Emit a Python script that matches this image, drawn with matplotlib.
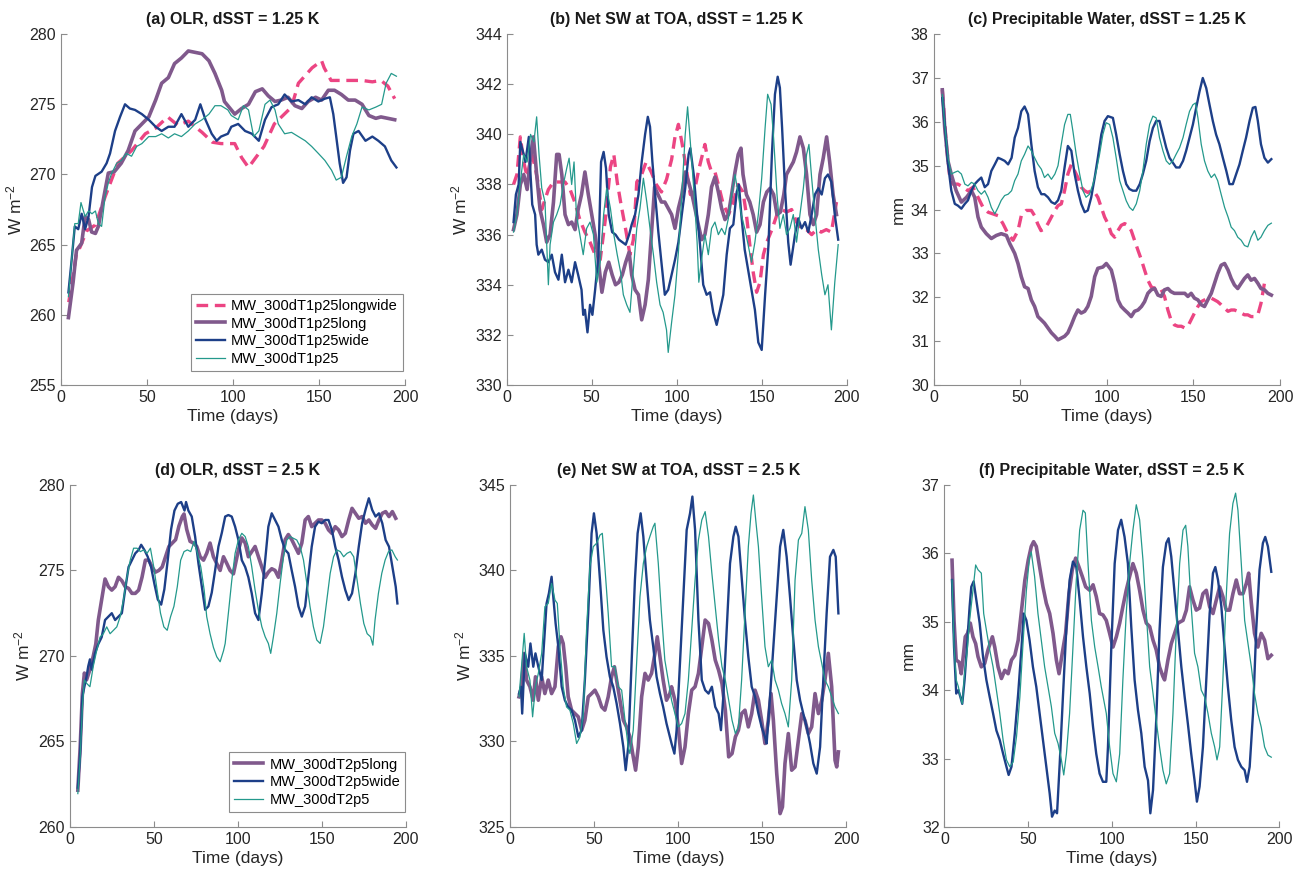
import matplotlib
matplotlib.use('Agg')
import matplotlib.pyplot as plt

plt.rcParams['font.family'] = ['Liberation Sans', 'DejaVu Sans']
plt.rcParams['mathtext.default'] = 'regular'

# colours of the four runs
PINK = '#EC4583'
PURPLE = '#80598C'
BLUE = '#1D3F88'
TEAL = '#24998C'

# ---------------- (a) OLR, dSST = 1.25 K ----------------
a_longwide_t = [4.5, 7, 9, 11, 15, 20, 25.6, 33, 41, 49, 55, 62, 68, 74, 82, 88, 93, 101, 105, 109,
                115, 118, 124, 129, 134, 138, 146, 151.5, 153, 157, 163, 169, 175, 181, 186, 190, 194]
a_longwide = [260.9, 262.8, 264.4, 264.8, 266.0, 266.4, 268.4, 270.8, 271.7, 272.9, 273.3, 274.1, 273.5,
              273.8, 273.0, 272.3, 272.2, 272.2, 271.2, 270.5, 271.5, 272.0, 273.6, 274.2, 274.8, 276.5,
              277.6, 278.1, 277.6, 276.7, 276.7, 276.7, 276.7, 276.6, 276.7, 276.3, 275.4]
a_long_t = [4.3, 7, 9, 12, 14, 16, 17.8, 20, 21.7, 24.6, 27.5, 31, 35, 39, 43, 47, 51, 55, 58.5, 62.4,
            66, 70, 74, 78, 82, 86, 89.5, 93.4, 95, 99, 101, 105, 109, 113, 117, 120.5, 124.4, 128, 132,
            136, 140, 143.7, 148, 151.5, 155.4, 159, 163, 167, 171, 175, 179, 183, 186, 190, 194]
a_long = [259.8, 262.3, 264.6, 265.1, 267.0, 266.8, 265.9, 265.8, 266.3, 268.2, 270.1, 270.2, 270.8,
          271.7, 273.1, 273.6, 274.1, 275.3, 276.5, 276.9, 277.9, 278.3, 278.8, 278.7, 278.6, 278.1,
          277.2, 276.0, 275.2, 274.6, 274.3, 274.7, 275.0, 275.9, 276.1, 275.6, 275.2, 275.3, 275.5,
          274.9, 274.7, 275.2, 275.5, 275.3, 276.0, 276.0, 275.7, 275.3, 275.3, 275.0, 274.2, 274.0,
          274.1, 274.0, 273.9]
a_wide_t = [4.3, 6, 8, 10, 12, 14, 16, 18, 20, 23.6, 26.5, 28.5, 31.4, 34.3, 37.2, 40, 43, 47, 51, 55,
            58.5, 62.4, 66, 70, 74, 78, 81, 84, 87.6, 90.5, 93, 97, 99, 103, 107, 111, 115, 118.6,
            122.4, 126.3, 130, 134, 138, 142, 145.7, 149.6, 153.4, 156.3, 158.3, 160, 162, 164, 166,
            168, 170, 173, 177, 181, 184.5, 188.3, 192, 195]
a_wide = [261.6, 263.7, 266.3, 266.1, 267.2, 266.1, 267.0, 269.1, 269.9, 270.2, 270.8, 271.5, 273.1,
          274.1, 275.0, 274.7, 274.6, 274.3, 273.9, 273.4, 273.1, 273.4, 273.4, 274.3, 273.4, 273.9,
          275.0, 273.9, 272.9, 272.4, 272.7, 272.9, 273.4, 273.6, 273.1, 272.9, 272.4, 273.9, 274.8,
          275.0, 275.7, 275.2, 275.3, 275.0, 275.5, 275.2, 275.4, 275.5, 274.3, 272.7, 270.8, 269.4,
          269.8, 271.7, 272.9, 273.1, 272.4, 272.7, 272.4, 272.0, 271.0, 270.5]
a_ctrl_t = [4.3, 6, 8, 10, 11.6, 14, 16, 18, 20, 21.7, 23.6, 25.6, 27.5, 29.5, 32.4, 35, 38, 41, 44, 47,
            51, 55, 58.5, 62.4, 66, 70, 74, 78, 82, 86, 89.5, 93, 97, 99, 103, 106, 109, 112, 115,
            118.6, 121.5, 124.4, 126.3, 130, 134, 138, 142, 145.7, 149.6, 153.4, 157.3, 160, 163, 166,
            169, 172, 175, 179, 183, 186.4, 189, 192, 195]
a_ctrl = [261.3, 263.7, 266.5, 266.5, 268.0, 267.0, 267.4, 267.2, 267.4, 266.5, 266.3, 268.4, 269.4,
          270.1, 270.8, 271.0, 271.5, 271.3, 272.0, 272.2, 272.7, 272.7, 272.9, 272.6, 272.9, 272.7,
          273.1, 273.6, 273.9, 274.3, 274.9, 274.9, 274.6, 274.2, 273.9, 274.9, 274.6, 272.7, 273.1,
          275.0, 275.3, 274.6, 273.6, 272.9, 273.0, 272.7, 272.4, 272.0, 271.5, 271.0, 270.3, 269.6,
          269.8, 271.3, 272.7, 273.6, 274.8, 274.6, 274.8, 275.0, 276.5, 277.2, 277.0]

# ---------------- (b) Net SW at TOA, dSST = 1.25 K ----------------
b_longwide_t = [4, 6, 8, 10, 12, 14.7, 16.7, 18.6, 20.6, 22.5, 24.5, 27.5, 31.4, 34.3, 37.3, 40, 43, 46,
                49, 52, 55, 58, 61, 63, 65, 67, 70, 72.5, 74.5, 76.5, 79.4, 82, 85, 88, 91, 94, 97, 99,
                101, 103, 105, 108, 110, 113, 116.6, 118.6, 120.5, 122.5, 124.5, 127.4, 130.4, 133,
                136, 139, 141, 143, 145, 147, 149, 151, 153, 156, 159, 162, 164.6, 167.6, 170.5, 173.5,
                176.4, 179.4, 182.3, 185, 188, 191, 194]
b_longwide = [338.0, 338.4, 339.9, 338.9, 338.3, 339.2, 338.7, 338.0, 337.0, 337.4, 337.8, 338.1, 338.1,
              338.1, 337.8, 337.3, 336.6, 336.1, 335.7, 335.2, 335.0, 336.6, 338.7, 339.2, 338.1, 337.3,
              336.2, 335.2, 335.8, 338.1, 338.4, 338.9, 338.5, 338.0, 337.7, 338.2, 339.0, 339.9, 340.4,
              339.7, 338.9, 337.6, 337.6, 338.6, 339.6, 338.9, 338.5, 338.5, 338.0, 337.2, 336.8, 337.2,
              338.0, 337.7, 336.8, 335.6, 334.5, 333.7, 334.1, 335.2, 335.7, 336.2, 336.8, 337.0, 336.9,
              337.0, 336.5, 336.2, 336.2, 336.0, 336.2, 336.1, 336.2, 336.1, 337.3]
b_long_t = [4, 6, 8, 10, 12, 13.7, 15.7, 17.6, 19.6, 21.6, 23.5, 25.5, 27.5, 29.4, 30.8, 32.4, 34.3,
            36.3, 38.2, 40.2, 42, 44, 46, 48, 50, 52, 54, 56, 58, 60, 62, 64, 66, 68, 70, 72, 73.5,
            75.5, 77.5, 79.4, 81.4, 83.3, 85.3, 87, 89, 91, 93, 95, 97, 99, 101, 103, 105, 107, 109,
            110.7, 112.7, 114.7, 116.6, 118.6, 120.5, 122.5, 124.5, 126.4, 128.4, 130.4, 132.3, 134.3,
            136.2, 137.8, 139, 141, 143, 145, 147, 149, 151, 153, 155, 157, 159, 161, 163, 164.6,
            166.6, 168.6, 170.5, 172.5, 174.5, 176.4, 178.4, 180.4, 182.3, 184.3, 186.2, 188.2, 190,
            192, 194]
b_long = [336.2, 336.8, 338.0, 338.4, 337.8, 338.9, 339.9, 338.4, 337.0, 336.4, 335.7, 336.0, 337.3,
          339.2, 339.2, 338.4, 336.8, 336.4, 336.5, 336.2, 337.0, 337.6, 338.5, 337.6, 336.8, 336.0,
          334.9, 333.7, 334.5, 334.9, 334.4, 334.0, 334.1, 334.4, 334.9, 335.3, 334.4, 333.8, 333.6,
          332.6, 333.2, 334.2, 336.2, 337.9, 337.6, 337.3, 337.3, 337.05, 336.8, 336.25, 337.05, 337.6,
          338.5, 338.1, 337.6, 337.05, 336.4, 335.8, 336.0, 336.8, 337.9, 338.3, 337.7, 337.05, 336.6,
          336.8, 337.6, 338.5, 339.2, 339.45, 338.4, 337.6, 337.3, 336.8, 336.1, 336.4, 337.3, 337.7,
          337.85, 337.6, 336.8, 336.9, 337.6, 338.4, 338.65, 338.9, 339.3, 339.9, 339.45, 338.4, 336.8,
          336.4, 336.8, 338.4, 339.05, 339.9, 338.9, 337.6, 336.8]
b_wide_t = [4, 5.4, 7, 8, 10, 11, 13, 14, 15, 16.7, 17.6, 18.6, 20.6, 22.5, 24.5, 26.5, 28.4, 30.4,
            32.4, 34.3, 36.3, 38.2, 40.2, 42, 44, 45, 46, 47.5, 49, 50.4, 52, 54, 55.5, 57, 58.4, 60,
            62, 64, 66, 68, 70, 72, 73.5, 75.5, 77.5, 79.4, 81.4, 83, 84.3, 85.7, 87.3, 89.2, 91, 93,
            95, 97, 99, 101, 103, 105, 107, 108, 110, 112, 113.7, 115.6, 117.6, 119.6, 121.5, 123.5,
            125.5, 127.4, 129.4, 131.3, 133.3, 135.3, 136.6, 138, 140, 142, 144, 146, 148, 150, 152,
            154, 156, 157.8, 159.4, 160.7, 162, 163.7, 165.6, 167, 169.6, 171.5, 173.5, 175.5, 177.4,
            179.4, 181.3, 183.3, 185.3, 187.2, 189, 191, 193, 195]
b_wide = [336.5, 337.6, 338.0, 339.7, 339.2, 338.9, 339.9, 338.4, 337.2, 336.8, 335.6, 335.2, 335.4,
          335.0, 334.9, 335.2, 334.5, 334.2, 335.2, 334.1, 334.6, 334.1, 334.9, 334.4, 333.8, 332.8,
          333.0, 332.1, 333.2, 332.8, 333.8, 335.2, 338.9, 339.3, 338.65, 336.8, 336.1, 336.0, 335.8,
          335.7, 335.6, 336.0, 336.4, 336.8, 337.6, 338.9, 340.0, 340.7, 340.3, 338.9, 337.6, 336.1,
          334.9, 333.6, 333.8, 334.4, 335.0, 335.7, 336.8, 337.85, 339.2, 339.45, 338.4, 336.8, 335.6,
          334.0, 333.6, 333.7, 332.9, 332.4, 333.0, 333.6, 335.2, 336.25, 336.4, 337.7, 338.0, 336.8,
          335.4, 334.6, 333.8, 333.0, 331.7, 331.4, 333.6, 335.6, 339.2, 341.6, 342.3, 341.86, 340.26,
          337.85, 335.7, 334.8, 336.0, 336.65, 336.25, 336.5, 336.1, 336.8, 337.6, 337.85, 337.6,
          338.25, 338.4, 338.1, 336.8, 335.8]
b_ctrl_t = [4, 6, 8, 10, 12, 14, 16, 17.6, 19, 20.6, 22.5, 24.5, 25.5, 27.5, 29.4, 31.4, 33.3, 35.3,
            36.7, 38.2, 39.6, 41, 43, 45, 47, 49, 51, 53, 55, 57, 58.8, 61, 63, 65, 67, 68.6, 70.6,
            72.5, 74.5, 76.5, 78.4, 80.4, 82.4, 84.3, 86.3, 88.2, 90.2, 92, 94, 95, 97, 99, 101, 103,
            105, 106.4, 108, 110, 112, 113, 115, 116.6, 118.6, 120.5, 122.5, 124.5, 126.4, 128.4,
            130.4, 132.3, 134.3, 136.2, 138, 140, 142, 144, 146, 148, 150, 152, 153.5, 155.5, 157,
            159, 160.7, 162.7, 164.6, 166.6, 168.6, 170.5, 172.5, 174.5, 176.4, 177.8, 179.4, 181.3,
            183.3, 185.3, 187.2, 189, 191, 193, 195]
b_ctrl = [336.1, 336.8, 338.1, 339.2, 338.9, 340.0, 339.7, 340.7, 339.2, 337.85, 337.3, 334.0, 335.6,
          336.5, 336.8, 337.2, 338.0, 338.65, 339.05, 338.0, 338.9, 336.8, 336.0, 335.2, 336.25, 336.5,
          336.0, 334.1, 334.9, 336.8, 337.85, 337.05, 336.0, 335.2, 334.5, 333.6, 333.2, 332.9, 334.6,
          336.25, 337.05, 338.25, 337.3, 336.25, 335.2, 334.1, 333.2, 332.9, 332.2, 331.3, 332.5,
          333.6, 335.3, 337.6, 339.99, 341.1, 339.7, 337.85, 335.7, 334.1, 335.2, 336.0, 335.2, 336.25,
          336.5, 336.0, 336.25, 336.0, 336.65, 337.6, 338.4, 337.6, 336.8, 336.25, 335.6, 334.9, 335.7,
          336.8, 338.25, 340.26, 341.6, 341.2, 339.86, 337.6, 336.25, 336.8, 336.0, 336.25, 336.8,
          335.7, 336.8, 337.85, 339.2, 339.6, 338.25, 336.8, 335.4, 334.4, 333.6, 334.0, 332.2, 334.1,
          335.6]

# ---------------- (c) Precipitable Water, dSST = 1.25 K ----------------
c_longwide_t = [5, 7.3, 9.3, 11.2, 14, 17, 19.8, 22.7, 25.6, 28.5, 31.4, 34.3, 37.2, 40, 42.9, 45.8,
                48.7, 50.6, 53.5, 56.4, 58.3, 60, 62, 64, 66, 68, 70, 71.8, 73.7, 75.6, 77.5, 79.5,
                81.4, 83.3, 85.2, 87.2, 89, 91, 93, 94.8, 96.8, 98.7, 100.6, 102.6, 104.5, 106.4, 108.3,
                110.3, 112.2, 114.1, 116, 118, 120, 121.8, 123.7, 125.6, 127.6, 129.5, 131.4, 133.3,
                135.25, 137, 139, 141, 143, 145, 146.8, 148.7, 150.6, 152.6, 154.5, 156.4, 158.3, 160.3,
                162.2, 164, 166, 168, 170, 171.8, 173.7, 175.6, 177.6, 179.5, 181.4, 183.3, 185.25,
                187.2, 189, 191, 192]
c_longwide = [36.73, 35.49, 34.73, 34.58, 34.58, 34.51, 34.43, 34.51, 34.28, 34.05, 33.94, 33.9, 33.86,
              33.68, 33.45, 33.3, 33.52, 33.86, 33.98, 33.98, 33.86, 33.68, 33.52, 33.56, 33.68, 33.83,
              33.98, 34.09, 34.13, 34.43, 34.81, 35.03, 34.88, 34.73, 34.51, 34.43, 34.39, 34.43, 34.39,
              34.28, 34.05, 33.83, 33.68, 33.45, 33.37, 33.52, 33.64, 33.68, 33.64, 33.52, 33.3, 33.07,
              32.85, 32.62, 32.39, 32.24, 32.2, 32.24, 32.17, 32.02, 31.71, 31.49, 31.37, 31.34, 31.34,
              31.3, 31.34, 31.49, 31.64, 31.79, 31.9, 31.94, 31.98, 31.98, 31.94, 31.9, 31.83, 31.75,
              31.68, 31.71, 31.71, 31.68, 31.64, 31.6, 31.6, 31.56, 31.56, 31.6, 31.86, 32.32, 32.39]
c_long_t = [5, 6.4, 8.3, 10.2, 13, 16, 19, 21.8, 23.7, 25.6, 27.5, 30.4, 33.3, 36.2, 39, 42, 44, 46.8,
            48.7, 50.6, 52.5, 54.5, 56.4, 58.3, 60.2, 62, 64, 66, 68, 70, 71.8, 73.7, 75.6, 77.5, 79.5,
            81.4, 83.3, 85.2, 87.2, 89, 91, 93, 94.8, 97.7, 99.7, 102.6, 104.5, 106.4, 108.3, 110.3,
            112.2, 114.1, 116, 118, 120, 121.8, 123.7, 125.6, 127.6, 129.5, 131.4, 133.3, 135.25, 137,
            139, 141, 143, 145, 146.8, 148.7, 150.6, 152.6, 154.5, 156.4, 158.3, 160.3, 162.2, 164,
            166, 168, 170, 171.8, 173.7, 175.6, 177.6, 179.5, 181.4, 183.3, 185.25, 187.2, 189, 191,
            193, 195]
c_long = [36.73, 35.86, 35.1, 34.8, 34.43, 34.17, 34.28, 34.43, 34.28, 33.83, 33.6, 33.45, 33.34, 33.41,
          33.45, 33.41, 33.22, 33.0, 32.77, 32.47, 32.24, 32.2, 31.94, 31.79, 31.56, 31.49, 31.41, 31.3,
          31.19, 31.11, 31.03, 31.07, 31.11, 31.19, 31.37, 31.56, 31.71, 31.64, 31.68, 31.79, 32.02,
          32.47, 32.66, 32.69, 32.77, 32.62, 32.32, 31.94, 31.79, 31.71, 31.64, 31.56, 31.68, 31.71,
          31.79, 31.9, 32.09, 32.17, 32.2, 32.05, 32.02, 32.17, 32.2, 32.13, 32.09, 32.09, 32.09, 32.09,
          32.02, 32.09, 31.98, 31.94, 31.83, 31.79, 31.94, 32.09, 32.32, 32.54, 32.73, 32.77, 32.62,
          32.43, 32.28, 32.2, 32.32, 32.43, 32.51, 32.39, 32.43, 32.32, 32.2, 32.17, 32.09, 32.05]
c_wide_t = [5, 6.4, 8.3, 10.2, 12.2, 14, 16, 18, 19.8, 21.8, 23.7, 25.6, 27.5, 29.5, 31.4, 33.3, 35.3,
            37.2, 39, 41, 43, 45, 46.8, 48.7, 50.6, 52.5, 54.5, 56.4, 58.3, 60.2, 62.2, 64, 66, 68, 70,
            71.8, 73.7, 75.6, 77.5, 79.5, 81.4, 83.3, 85.2, 87.2, 89, 91, 93, 94.8, 96.8, 98.7, 100.6,
            103.5, 105.4, 107.4, 109.3, 111.2, 113, 115, 117, 119, 120.8, 122.75, 124.7, 126.6, 128.5,
            130.4, 132.4, 134.3, 136.2, 138.1, 140, 142, 144, 145.8, 147.75, 149.7, 151.6, 153.5,
            155.4, 157.4, 159.3, 161.2, 163.1, 165, 167, 169, 170.8, 172.75, 174.7, 176.6, 178.5,
            180.4, 182.4, 184.3, 185.8, 187.2, 189, 191, 193, 195]
c_wide = [36.54, 35.94, 35.03, 34.43, 34.13, 34.09, 34.02, 34.13, 34.21, 34.43, 34.58, 34.66, 34.73,
          34.51, 34.58, 34.88, 35.03, 35.18, 35.15, 35.11, 35.03, 35.18, 35.64, 35.86, 36.24, 36.35,
          36.17, 35.49, 34.88, 34.51, 34.35, 34.35, 34.28, 34.17, 34.13, 34.21, 34.43, 34.96, 35.45,
          35.34, 34.81, 34.43, 34.13, 33.94, 33.98, 34.28, 34.73, 35.18, 35.71, 36.02, 36.13, 36.09,
          35.71, 35.26, 34.88, 34.58, 34.47, 34.43, 34.43, 34.58, 34.81, 35.11, 35.56, 35.86, 36.02,
          36.02, 35.71, 35.41, 35.18, 35.07, 34.96, 34.96, 35.11, 35.34, 35.64, 35.94, 36.32, 36.69,
          37.0, 36.77, 36.39, 36.02, 35.71, 35.49, 35.18, 34.88, 34.58, 34.58, 34.81, 35.03, 35.34,
          35.64, 36.02, 36.32, 36.34, 36.02, 35.49, 35.18, 35.07, 35.15]
c_ctrl_t = [5, 6.4, 8.3, 10.2, 12.2, 14, 16, 18, 19.8, 21.8, 23.7, 25.6, 27.5, 29.5, 31.4, 33.3, 35.3,
            37.2, 39, 41, 43, 45, 46.8, 48.7, 50.6, 52.5, 54.5, 56.4, 58.3, 60.2, 62.2, 64, 66, 68, 70,
            71.8, 73.7, 75.6, 77.5, 78.9, 80.4, 82.3, 84.3, 86.2, 88, 90, 92, 93.9, 95.8, 97.7, 99.6,
            101.6, 103.5, 105.4, 107.4, 109.3, 111.2, 113.1, 115, 117, 119, 120.8, 122.75, 124.7,
            126.6, 128.5, 130.4, 132.4, 134.3, 136.2, 138.1, 140, 142, 144, 145.8, 147.75, 149.7,
            151.2, 152.6, 154.5, 156.4, 158.3, 160.3, 162.2, 164, 166, 168, 170, 171.8, 173.7, 175.6,
            177.6, 179.5, 181.4, 183.3, 185.25, 187.2, 189, 191, 193, 195]
c_ctrl = [36.62, 35.94, 35.18, 34.81, 34.85, 34.88, 34.81, 34.58, 34.54, 34.62, 34.58, 34.43, 34.35,
          34.43, 34.28, 34.05, 33.9, 34.05, 34.21, 34.32, 34.35, 34.43, 34.66, 34.81, 35.11, 35.26,
          35.45, 35.34, 35.18, 35.03, 34.92, 34.73, 34.81, 34.69, 34.81, 35.0, 35.49, 35.94, 36.17,
          36.17, 35.79, 35.26, 34.81, 34.43, 34.28, 34.35, 34.58, 34.88, 35.26, 35.71, 35.98, 35.94,
          35.64, 35.18, 34.66, 34.43, 34.2, 34.05, 33.98, 34.13, 34.43, 34.88, 35.49, 35.94, 36.13,
          36.09, 35.64, 35.34, 35.11, 35.03, 35.11, 35.26, 35.41, 35.64, 35.94, 36.24, 36.39, 36.43,
          36.09, 35.49, 35.11, 34.88, 34.73, 34.81, 34.66, 34.35, 34.05, 33.83, 33.6, 33.52, 33.37,
          33.3, 33.18, 33.15, 33.37, 33.52, 33.3, 33.37, 33.52, 33.64, 33.69]

# ---------------- (d) OLR, dSST = 2.5 K ----------------
d_long_t = [4.8, 6.2, 7.5, 8.7, 10, 12, 14, 15.5, 17, 19, 21, 23, 25, 27, 29, 31, 33, 35, 37, 39, 41,
            43, 45, 47, 49, 51, 53, 55, 57, 59, 61, 63, 65, 67, 68, 69.6, 71.6, 73.6, 75.6, 77.6, 79.6,
            81.5, 83.5, 85.5, 87.5, 89.5, 91.5, 93.5, 95.4, 97.4, 100.4, 102.4, 104.4, 106.3, 108.3,
            110.3, 112.3, 114.3, 116.3, 118.2, 120.2, 122.2, 124.2, 126.2, 128.2, 130.1, 132.1, 134.1,
            136.1, 138.1, 140.1, 142, 144, 146, 148, 150, 152, 154, 156, 158, 160, 162, 164, 166, 168,
            170, 172, 174, 176, 178, 180, 182, 184, 186, 188, 190, 192, 194]
d_long = [262.15, 264.68, 267.8, 269.0, 268.6, 269.2, 270.0, 270.7, 272.1, 273.3, 274.5, 274.05, 273.85,
          274.05, 274.6, 274.4, 274.05, 273.95, 273.66, 273.66, 273.85, 274.6, 275.6, 275.6, 275.2,
          274.9, 275.0, 275.2, 275.8, 276.4, 276.6, 276.8, 277.6, 278.15, 278.3, 277.4, 276.7, 276.6,
          276.4, 275.8, 275.6, 276.0, 276.6, 275.8, 275.4, 275.0, 275.8, 275.4, 275.0, 274.8, 276.2,
          276.9, 276.6, 275.8, 276.1, 276.4, 275.8, 275.2, 274.6, 274.9, 275.1, 275.0, 274.6, 275.6,
          276.8, 277.1, 276.8, 276.4, 276.0, 276.6, 277.95, 278.15, 277.56, 277.76, 277.95, 277.95,
          277.76, 277.37, 277.17, 277.56, 277.37, 276.98, 277.17, 277.95, 278.63, 278.34, 278.05,
          278.15, 277.76, 277.95, 277.66, 277.46, 277.95, 278.34, 278.44, 278.15, 278.44, 278.05]
d_wide_t = [4.8, 6.2, 7.5, 8.7, 10, 11, 12, 13, 15, 17, 19, 21, 23, 25, 27, 29, 31, 33, 35, 37, 39, 41,
            42.5, 44.4, 46.4, 48.4, 50.4, 52.4, 54.4, 56.3, 58.3, 60.3, 62.3, 64.3, 66.3, 68.3, 69.2,
            70.6, 72.6, 74.6, 76.6, 78.6, 80.6, 82.5, 84.5, 86.5, 88.5, 90.5, 92.5, 94.4, 96.4, 98.4,
            100.4, 102.4, 104.4, 106.3, 108.3, 110.3, 112.3, 114.3, 116.3, 118.2, 120.2, 122.2, 124.2,
            126.2, 128.2, 130.1, 132.1, 134.1, 136.1, 138.1, 140.1, 142, 144, 146, 148, 150, 152, 154,
            156, 158, 160, 162, 164, 166, 168, 170, 172, 174, 176, 178, 180, 182, 184, 186, 188, 190,
            192, 194, 195]
d_wide = [262.3, 264.3, 267.6, 268.2, 268.8, 269.4, 269.8, 269.2, 270.15, 270.7, 271.1, 272.1, 272.3,
          272.5, 272.1, 272.3, 272.5, 273.9, 275.2, 275.6, 276.0, 276.2, 276.5, 276.2, 275.8, 275.2,
          274.2, 273.3, 273.0, 273.9, 275.6, 277.4, 278.5, 278.9, 279.0, 278.5, 279.0, 278.5, 278.15,
          276.98, 275.4, 274.05, 272.7, 272.9, 273.7, 275.0, 276.4, 277.2, 278.15, 278.24, 278.15,
          277.56, 276.78, 275.6, 275.2, 274.6, 273.66, 272.5, 272.1, 273.66, 275.6, 277.56, 278.34,
          277.95, 277.56, 276.78, 276.2, 276.0, 275.0, 274.05, 272.9, 272.3, 272.9, 274.63, 276.39,
          277.56, 277.85, 277.76, 277.95, 277.95, 277.37, 276.39, 275.61, 274.63, 273.85, 273.27,
          273.66, 274.83, 276.39, 277.76, 278.54, 279.22, 278.54, 278.15, 278.34, 277.76, 276.78,
          276.39, 275.22, 274.05, 273.07]
d_ctrl_t = [4.8, 6.2, 7.5, 8.7, 10, 12, 14, 16, 18, 20, 22, 24, 26, 28, 30, 32, 34, 36, 38, 40, 42, 44,
            46, 48, 50, 52, 54, 56, 58, 60, 62, 64, 66, 68, 70, 72, 74, 76, 78, 80, 81.5, 83.5, 85.5,
            87.5, 89.5, 91.5, 92.5, 94.4, 96.4, 98.4, 100.4, 102.4, 104.4, 106.3, 108.3, 110.3, 112.3,
            114.3, 116.3, 118.2, 119.6, 121.2, 123.2, 125.2, 127.2, 129.2, 131.1, 133.1, 135.1, 137.1,
            139.1, 141.1, 143, 145, 147, 149, 151, 153, 155, 157, 159, 161, 163, 165, 167, 169, 171,
            173, 175, 177, 179, 180.4, 181.7, 183.7, 185.7, 187.7, 189.7, 191.7, 193.7, 195]
d_ctrl = [261.95, 264.1, 267.0, 268.6, 268.4, 268.2, 269.4, 270.3, 271.1, 271.3, 271.7, 271.3, 271.5,
          271.7, 272.3, 273.3, 274.6, 275.6, 276.3, 276.3, 276.1, 276.2, 276.0, 276.3, 275.2, 273.85,
          272.5, 271.7, 271.5, 272.3, 272.9, 274.05, 275.6, 276.1, 276.2, 276.1, 276.7, 276.0, 275.2,
          273.85, 272.3, 271.3, 270.5, 269.95, 269.66, 270.3, 270.73, 272.5, 274.4, 276.0, 276.8,
          277.17, 276.98, 276.39, 275.22, 273.85, 272.68, 271.71, 271.12, 270.73, 270.15, 271.12,
          272.49, 274.24, 275.8, 276.78, 276.98, 276.88, 276.78, 276.39, 275.61, 274.24, 272.88,
          271.71, 270.93, 270.73, 271.71, 273.27, 274.83, 275.8, 276.2, 276.1, 275.8, 276.0, 276.1,
          275.8, 274.44, 273.07, 271.9, 271.3, 271.12, 270.63, 272.1, 273.66, 274.83, 275.61, 276.1,
          276.2, 275.8, 275.61]

# ---------------- (e) Net SW at TOA, dSST = 2.5 K ----------------
e_long_t = [5.2, 6.7, 8.3, 9.7, 11.7, 13.7, 15, 16.7, 18.7, 20.6, 22.6, 24.6, 26.6, 28.6, 30.2, 31.5,
            33, 34.5, 36.5, 38.5, 40.5, 42.5, 44.4, 46.4, 48.4, 50.4, 52.4, 54.4, 56.3, 58.3, 60.3, 62,
            63.3, 65.3, 67.3, 69.2, 71.2, 73.2, 74.6, 76.2, 78.2, 80.2, 82.1, 84.1, 86.1, 87.5, 89.1,
            91, 93, 95, 96, 98, 100, 102, 104, 106, 108, 110, 112, 114, 116, 118, 120, 122, 124, 126,
            128, 130, 132, 134, 135.8, 137.7, 139.7, 141.7, 143.7, 145.7, 147.7, 149.6, 151.6, 153.6,
            155.2, 156.6, 158.6, 160.6, 162, 163.5, 165.5, 167.5, 169.5, 171.5, 173.5, 175.4, 177.4,
            179.4, 181.4, 183.4, 185.4, 187.3, 189.3, 191.3, 193.3, 194.3, 195.3]
e_long = [332.61, 333.2, 335.15, 333.59, 333.2, 332.41, 333.78, 332.41, 333.78, 332.8, 333.59, 332.8,
          333.2, 335.54, 336.12, 335.73, 334.37, 332.61, 331.83, 331.63, 331.44, 330.66, 331.24, 332.61,
          332.8, 333.0, 332.61, 332.02, 331.83, 332.61, 333.78, 334.37, 333.59, 332.41, 331.24, 330.85,
          330.27, 329.1, 328.32, 329.68, 332.61, 333.98, 333.59, 333.98, 335.15, 336.12, 334.95,
          333.59, 332.41, 332.8, 333.2, 332.41, 330.85, 328.71, 329.68, 331.63, 333.0, 333.2, 333.98,
          335.54, 337.1, 336.9, 335.93, 334.76, 334.17, 333.39, 331.83, 329.1, 329.29, 330.27, 330.66,
          331.63, 331.83, 330.85, 331.63, 333.0, 332.41, 331.24, 329.88, 331.24, 332.8, 331.24, 328.12,
          325.78, 326.17, 328.71, 330.46, 328.32, 328.51, 330.07, 331.63, 331.24, 330.46, 330.85,
          332.8, 331.63, 332.41, 333.59, 335.15, 333.2, 328.9, 328.51, 329.39]
e_wide_t = [5.2, 6.4, 7.1, 8.7, 10.7, 12, 13.7, 15, 16.7, 18.7, 20.6, 21.6, 23, 24.6, 25.6, 27, 28.6,
            30.6, 32.5, 34.5, 36.5, 38.5, 40.5, 42.5, 44.4, 46.4, 48.4, 49.8, 51.4, 53.4, 55.4, 57.3,
            59.3, 61.3, 63.3, 65.3, 67.3, 68.7, 70.2, 72.2, 74.2, 75.8, 77.6, 79.2, 81.2, 83.1, 85.1,
            87.1, 89.1, 91, 93, 95, 96, 97.7, 99, 101, 103, 105, 107, 108.4, 110, 112, 114, 116, 118,
            120, 122, 124, 125.4, 126.8, 128.8, 130.8, 132.8, 134.2, 135.8, 137.7, 139.7, 141.7, 143.7,
            145.7, 147.7, 149.6, 151.6, 152.6, 154.6, 156.6, 158.6, 160.6, 162.5, 164.5, 166.5, 168.5,
            170.5, 172.5, 174.4, 176.4, 178.4, 180.4, 182.4, 184.4, 186.3, 188.3, 190.3, 192.3, 193.7,
            195.3]
e_wide = [332.8, 333.2, 331.63, 335.15, 334.37, 335.73, 334.37, 335.15, 334.37, 333.59, 336.51, 338.07,
          338.66, 339.63, 338.46, 336.9, 335.54, 333.2, 332.41, 332.02, 331.83, 331.24, 330.27, 330.66,
          333.59, 337.49, 342.17, 343.34, 342.17, 339.44, 336.51, 334.95, 333.78, 333.2, 332.22, 331.05,
          329.68, 328.32, 329.68, 334.56, 339.44, 342.17, 343.34, 341.98, 339.44, 337.1, 335.54, 333.78,
          332.8, 332.02, 331.05, 330.27, 329.88, 329.29, 330.66, 334.56, 338.46, 342.37, 343.34, 344.32,
          342.37, 337.1, 333.59, 333.0, 332.8, 333.2, 332.02, 331.63, 330.66, 332.61, 336.51, 340.41,
          341.98, 342.56, 341.98, 339.63, 337.1, 334.95, 333.2, 332.61, 331.63, 330.85, 330.27, 329.88,
          332.61, 335.54, 338.46, 341.39, 342.37, 340.8, 338.46, 335.93, 333.59, 332.41, 331.63, 330.85,
          329.88, 328.71, 328.12, 329.68, 333.59, 337.49, 340.8, 341.2, 340.8, 337.49]
e_ctrl_t = [5.2, 6.7, 8.3, 9.7, 11.7, 13.3, 15, 16.7, 18.7, 20.6, 22.6, 24.6, 26.6, 28, 29.6, 31.5, 33.5,
            35.5, 37.5, 39.5, 41.5, 43.5, 45.4, 47.4, 49.4, 51.4, 53.4, 54.8, 56.3, 58.3, 60.3, 62.3,
            64.3, 66.3, 68.3, 70.2, 71.2, 73.2, 75.2, 77.2, 79.2, 81.2, 83.1, 85.1, 86.1, 88.1, 90, 92,
            94, 96, 98, 100, 102, 104, 106, 108, 110, 112, 114, 116, 118, 120, 122, 124, 126, 128, 130,
            132, 134, 135.8, 137.7, 139.7, 141.7, 143.3, 144.7, 146.1, 147.7, 149.6, 151.6, 153.6,
            155.6, 157.6, 159.6, 161.5, 163.5, 165.5, 167.5, 169.5, 171.5, 173.5, 175.4, 177.4, 179.4,
            181.4, 183.4, 185.4, 187.3, 189.3, 191.3, 193.3, 195.3]
e_ctrl = [332.61, 334.37, 336.32, 334.37, 333.59, 331.44, 333.2, 333.98, 335.15, 337.88, 338.07, 339.24,
          338.27, 338.07, 335.54, 333.2, 332.02, 331.83, 331.05, 329.88, 330.27, 331.63, 336.51, 340.22,
          341.39, 341.59, 342.07, 342.17, 340.22, 337.49, 334.37, 334.37, 333.2, 333.0, 331.24, 329.68,
          329.29, 330.66, 334.56, 338.46, 340.41, 341.39, 341.98, 342.56, 342.76, 340.41, 337.49, 334.76,
          333.59, 332.41, 331.63, 330.85, 331.05, 331.63, 333.59, 336.51, 339.44, 341.78, 342.95, 343.44,
          341.98, 339.83, 337.88, 335.93, 334.37, 333.59, 332.41, 331.24, 330.46, 330.85, 333.59, 337.49,
          341.39, 343.34, 344.41, 342.95, 341.39, 338.46, 335.54, 334.37, 334.76, 333.59, 333.0, 332.22,
          331.63, 330.85, 333.59, 339.44, 341.78, 342.17, 343.73, 342.37, 339.44, 337.1, 335.54, 334.56,
          333.59, 333.2, 332.61, 332.02, 331.63]

# ---------------- (f) Precipitable Water, dSST = 2.5 K ----------------
f_long_t = [4.5, 5.7, 7, 8.7, 10, 11.4, 12.4, 13.8, 15.4, 17, 18.6, 20, 22, 24, 26, 28.6, 30, 32, 34, 36,
            38, 40, 42, 44, 46, 48, 50, 51.8, 53.2, 54.8, 56.8, 58.8, 60.8, 62.8, 64.8, 66.8, 68.4,
            70.3, 72.3, 74.3, 76.3, 78.3, 80.3, 82.3, 84.3, 86.7, 88.7, 90.6, 92.6, 94.6, 96.6, 98.6,
            100.6, 102.6, 104.6, 106.5, 108.5, 110.5, 112.5, 114.5, 116.5, 118.5, 120.5, 122.5, 124.5,
            126.4, 128.4, 130.4, 131.4, 133.4, 135.4, 137.4, 139.4, 142.4, 144.4, 146.3, 148.3, 150.3,
            152.3, 154.3, 156.3, 158.3, 160.3, 162.3, 164.3, 166.2, 168.2, 170.2, 172.2, 174.2, 176.2,
            178.2, 180.2, 181.6, 183.2, 185.1, 187.1, 189.1, 191.1, 193.1, 195.1]
f_long = [35.90, 35.02, 34.44, 34.41, 34.24, 34.54, 34.78, 34.83, 34.98, 34.78, 34.68, 34.49, 34.34,
          34.39, 34.59, 34.78, 34.63, 34.34, 34.17, 34.29, 34.24, 34.44, 34.51, 34.73, 35.17, 35.61,
          35.90, 36.10, 36.17, 36.10, 35.80, 35.51, 35.27, 35.12, 34.83, 34.44, 34.24, 34.54, 34.83,
          35.41, 35.76, 35.93, 35.80, 35.66, 35.51, 35.46, 35.54, 35.37, 35.12, 35.10, 35.02, 34.83,
          34.63, 34.78, 34.98, 35.22, 35.46, 35.66, 35.85, 35.71, 35.46, 35.17, 34.98, 34.93, 34.73,
          34.59, 34.34, 34.20, 34.15, 34.44, 34.68, 34.83, 34.98, 35.02, 35.17, 35.51, 35.32, 35.17,
          35.20, 35.41, 35.46, 35.22, 35.12, 35.32, 35.51, 35.37, 35.17, 35.17, 35.41, 35.61, 35.41,
          35.41, 35.56, 35.71, 35.27, 34.83, 34.63, 34.83, 34.73, 34.46, 34.51]
f_wide_t = [4.5, 5.7, 7, 8.3, 9.5, 10.6, 12, 13.4, 15, 16, 17.4, 19, 21, 23, 25, 27, 29, 31, 33, 35, 37,
            38.3, 40, 42, 44, 46, 47.3, 48.9, 50.8, 52.8, 54.8, 56.8, 58.8, 60.8, 62.8, 64.2, 65.8,
            67.2, 68.8, 70.7, 72.7, 74.7, 76.7, 78.7, 80.7, 82.7, 84.7, 86.7, 88.7, 90.6, 92.6, 94.6,
            96.6, 97.6, 99.6, 101.6, 103.6, 105.5, 107.5, 109.5, 111.5, 113.5, 115.5, 117.5, 119.5,
            121.5, 122.9, 124.5, 126.4, 128.4, 130.4, 132.4, 133.8, 135.4, 137.4, 139.4, 141.4, 143.4,
            145.3, 147.3, 149.3, 150.7, 152.3, 154.3, 156.3, 158.3, 160.3, 161.7, 163.3, 165.3, 167.2,
            169.2, 171.2, 173.2, 175.2, 177.2, 179.2, 180.6, 182.2, 184.2, 186.1, 188.1, 190.1, 191.5,
            193.1, 195.1]
f_wide = [35.61, 34.63, 33.95, 34.00, 33.90, 33.80, 34.15, 34.63, 35.22, 35.51, 35.59, 35.32, 34.98,
          34.49, 34.15, 33.90, 33.66, 33.41, 33.27, 33.07, 32.88, 32.76, 32.88, 33.37, 33.95, 34.63,
          35.12, 35.02, 34.73, 34.34, 34.05, 33.66, 33.27, 32.88, 32.49, 32.15, 32.24, 32.20, 32.93,
          33.90, 34.88, 35.61, 35.88, 35.80, 35.32, 34.78, 34.34, 33.95, 33.46, 33.07, 32.78, 32.66,
          32.66, 33.17, 34.63, 35.85, 36.34, 36.49, 36.24, 35.85, 34.93, 34.15, 33.71, 33.37, 32.88,
          32.68, 32.20, 32.54, 33.56, 34.88, 35.80, 36.15, 36.22, 35.95, 35.41, 34.88, 34.34, 33.90,
          33.51, 33.07, 32.68, 32.37, 32.59, 33.17, 34.15, 35.12, 35.71, 35.80, 35.61, 35.22, 34.63,
          34.05, 33.56, 33.17, 32.98, 32.88, 32.83, 32.66, 32.88, 33.66, 34.88, 35.76, 36.15, 36.24,
          36.10, 35.73]
f_ctrl_t = [4.5, 5.7, 7, 8.3, 9.5, 10.6, 12, 13.4, 15, 17, 18.6, 20, 22, 23.4, 25, 27, 29, 31, 33, 35,
            37, 39, 41, 43, 45, 47, 48.9, 50.8, 51.8, 53.8, 55.8, 57.8, 59.8, 61.8, 63.8, 65.8, 67.8,
            69.8, 71.2, 72.8, 74.7, 76.7, 78.7, 80.7, 82.7, 84.1, 85.7, 87.7, 89.7, 91.7, 93.6, 96.6,
            98.6, 100.6, 102.6, 104.6, 106.5, 108.5, 110.5, 112.5, 114.5, 116.5, 118.5, 120.5, 122.5,
            124.5, 126.4, 128.4, 130.4, 132.4, 134.4, 136.4, 138.4, 140.4, 142.4, 144, 145.3, 147.3,
            149.3, 151.3, 153.3, 155.3, 157.3, 159.3, 161.3, 162.7, 164.3, 166.2, 168.2, 170.2, 172.2,
            173.8, 175.2, 177.2, 179.2, 181.2, 183.2, 185.1, 187.1, 189.1, 191.1, 193.1, 195.1]
f_ctrl = [35.61, 34.63, 34.15, 34.05, 33.90, 33.80, 34.24, 34.54, 35.02, 35.46, 35.83, 35.76, 35.71,
          35.12, 34.88, 34.59, 34.34, 34.00, 33.66, 33.27, 32.98, 32.88, 32.95, 33.32, 33.90, 34.73,
          35.46, 35.95, 36.02, 35.66, 35.12, 34.73, 34.34, 34.05, 33.76, 33.37, 33.22, 32.98, 32.76,
          33.07, 33.66, 34.63, 35.61, 36.34, 36.63, 36.59, 35.85, 35.02, 34.63, 34.34, 34.05, 33.66,
          33.17, 32.78, 32.66, 33.07, 34.15, 35.12, 35.85, 36.34, 36.71, 36.49, 35.90, 35.12, 34.34,
          33.95, 33.56, 33.17, 32.83, 32.63, 32.78, 33.66, 34.88, 35.85, 36.34, 36.41, 36.10, 35.22,
          34.54, 34.34, 34.00, 33.90, 33.66, 33.37, 33.17, 32.98, 33.17, 34.15, 35.37, 36.29, 36.73,
          36.88, 36.63, 35.85, 35.02, 34.68, 34.34, 33.95, 33.66, 33.46, 33.17, 33.05, 33.02]

WM2 = 'W m$^{-2}$'


def style_axes(ax, title, ylabel, ylim, yticks):
    ax.set_xlim(0, 200)
    ax.set_xticks([0, 50, 100, 150, 200])
    ax.set_ylim(*ylim)
    ax.set_yticks(yticks)
    ax.set_title(title, fontsize=11.5, fontweight='bold', color='#1a1a1a', pad=7)
    ax.set_xlabel('Time (days)', fontsize=12.5, color='#262626', labelpad=3)
    ax.set_ylabel(ylabel, fontsize=12.5, color='#262626', labelpad=4)
    for side in ['top', 'right']:
        ax.spines[side].set_visible(False)
    for side in ['left', 'bottom']:
        ax.spines[side].set_color('#8c8c8c')
        ax.spines[side].set_linewidth(0.8)
    ax.tick_params(direction='in', length=4, width=0.8, color='#8c8c8c',
                   labelcolor='#262626', labelsize=11.5)


def add_legend(ax, anchor):
    leg = ax.legend(loc='lower right', bbox_to_anchor=anchor, borderaxespad=0,
                    fontsize=10.5, fancybox=False, framealpha=1, edgecolor='#8c8c8c',
                    handlelength=2.0, labelspacing=0.25, borderpad=0.35, handletextpad=0.4)
    leg.get_frame().set_linewidth(0.8)


def main():

    fig = plt.figure(figsize=(13.04, 8.75), dpi=100)

    ax_a = fig.add_axes([0.0468, 0.560, 0.2638, 0.401])
    ax_b = fig.add_axes([0.3886, 0.560, 0.2607, 0.401])
    ax_c = fig.add_axes([0.7160, 0.560, 0.2656, 0.401])
    ax_d = fig.add_axes([0.0535, 0.0549, 0.2577, 0.3909])
    ax_e = fig.add_axes([0.3913, 0.0549, 0.2577, 0.3909])
    ax_f = fig.add_axes([0.7243, 0.0549, 0.2569, 0.3909])

    dash = (0, (3.5, 2.0))

    # top row: four runs with dSST = 1.25 K
    top = [
        (ax_a, a_longwide_t, a_longwide, a_long_t, a_long, a_wide_t, a_wide, a_ctrl_t, a_ctrl),
        (ax_b, b_longwide_t, b_longwide, b_long_t, b_long, b_wide_t, b_wide, b_ctrl_t, b_ctrl),
        (ax_c, c_longwide_t, c_longwide, c_long_t, c_long, c_wide_t, c_wide, c_ctrl_t, c_ctrl),
    ]
    for ax, t1, v1, t2, v2, t3, v3, t4, v4 in top:
        ax.plot(t1, v1, color=PINK, lw=2.4, linestyle=dash, label='MW_300dT1p25longwide')
        ax.plot(t2, v2, color=PURPLE, lw=2.6, label='MW_300dT1p25long')
        ax.plot(t3, v3, color=BLUE, lw=1.7, label='MW_300dT1p25wide')
        ax.plot(t4, v4, color=TEAL, lw=0.9, label='MW_300dT1p25')

    # bottom row: three runs with dSST = 2.5 K
    bottom = [
        (ax_d, d_long_t, d_long, d_wide_t, d_wide, d_ctrl_t, d_ctrl),
        (ax_e, e_long_t, e_long, e_wide_t, e_wide, e_ctrl_t, e_ctrl),
        (ax_f, f_long_t, f_long, f_wide_t, f_wide, f_ctrl_t, f_ctrl),
    ]
    for ax, t2, v2, t3, v3, t4, v4 in bottom:
        ax.plot(t2, v2, color=PURPLE, lw=2.6, label='MW_300dT2p5long')
        ax.plot(t3, v3, color=BLUE, lw=1.7, label='MW_300dT2p5wide')
        ax.plot(t4, v4, color=TEAL, lw=0.9, label='MW_300dT2p5')

    # customize each panel
    style_axes(ax_a, '(a) OLR, dSST = 1.25 K', WM2, (255, 280), range(255, 281, 5))
    style_axes(ax_b, '(b) Net SW at TOA, dSST = 1.25 K', WM2, (330, 344), range(330, 345, 2))
    style_axes(ax_c, '(c) Precipitable Water, dSST = 1.25 K', 'mm', (30, 38), range(30, 39))
    style_axes(ax_d, '(d) OLR, dSST = 2.5 K', WM2, (260, 280), range(260, 281, 5))
    style_axes(ax_e, '(e) Net SW at TOA, dSST = 2.5 K', WM2, (325, 345), range(325, 346, 5))
    style_axes(ax_f, '(f) Precipitable Water, dSST = 2.5 K', 'mm', (32, 37), range(32, 38))

    add_legend(ax_a, (0.994, 0.04))
    add_legend(ax_d, (0.998, 0.044))

    fig.savefig('out.png', dpi=100)


if __name__ == "__main__":
    main()
